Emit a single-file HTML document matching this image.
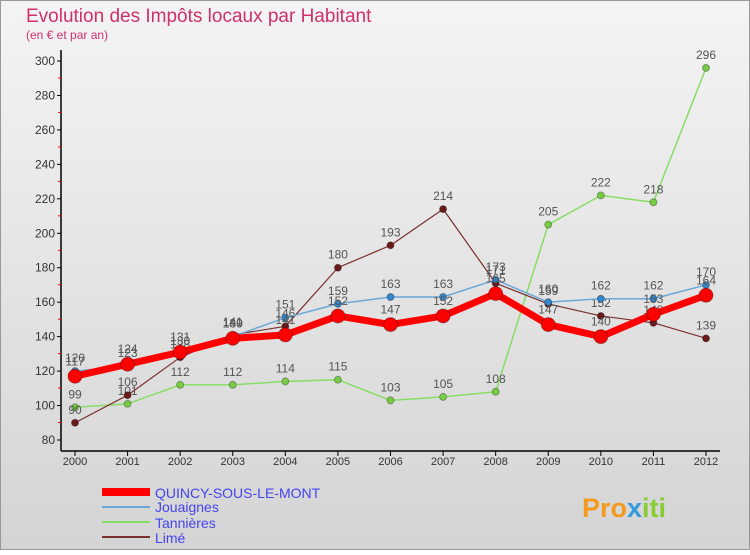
<!DOCTYPE html>
<html><head><meta charset="utf-8"><style>
body{margin:0;width:750px;height:550px;overflow:hidden;font-family:"Liberation Sans",sans-serif}
</style></head><body>
<svg width="750" height="550" xmlns="http://www.w3.org/2000/svg" font-family="Liberation Sans, sans-serif">
<defs><linearGradient id="bg" x1="0" y1="0" x2="0" y2="1"><stop offset="0" stop-color="#f4f4f4"/><stop offset="1" stop-color="#d4d4d4"/></linearGradient></defs>
<rect x="0.5" y="0.5" width="749" height="549" fill="url(#bg)" stroke="#999"/>
<text x="26" y="22" font-size="19" fill="#d0306a">Evolution des Impôts locaux par Habitant</text>
<text x="26" y="39" font-size="12" fill="#d0306a">(en € et par an)</text>
<g id="axes"></g>
<g id="series"></g>
<g font-size="14">
<line x1="102" y1="492" x2="150" y2="492" stroke="#f00" stroke-width="8"/>
<text x="155" y="498" fill="#4444ee">QUINCY-SOUS-LE-MONT</text>
<line x1="102" y1="507" x2="150" y2="507" stroke="#6aa8d8" stroke-width="2"/>
<text x="155" y="512" fill="#4444ee">Jouaignes</text>
<line x1="102" y1="522" x2="150" y2="522" stroke="#88dd66" stroke-width="2"/>
<text x="155" y="528" fill="#4444ee">Tannières</text>
<line x1="102" y1="537" x2="150" y2="537" stroke="#7a3030" stroke-width="2"/>
<text x="155" y="543" fill="#4444ee">Limé</text>
</g>
<text x="582" y="517" font-size="27" font-weight="bold" fill="#f39a1f">Pro<tspan fill="#3399dd">x</tspan><tspan fill="#88cc33">iti</tspan></text>
</svg>
<script>
const years=[2000,2001,2002,2003,2004,2005,2006,2007,2008,2009,2010,2011,2012];
const yTicks=[80,100,120,140,160,180,200,220,240,260,280,300];
const quincy=[117,124,131,139,141,152,147,152,165,147,140,153,164];
const jouaignes=[120,123,130,140,151,159,163,163,173,160,162,162,170];
const tannieres=[99,101,112,112,114,115,103,105,108,205,222,218,296];
const lime=[90,106,128,141,146,180,193,214,171,159,152,148,139];
const NS="http://www.w3.org/2000/svg";
const xs=i=>75+i*(706-75)/12;
const ys=v=>440-(v-80)*(440-61)/220;
function mk(t,a,p){const e=document.createElementNS(NS,t);for(const k in a)e.setAttribute(k,a[k]);p.appendChild(e);return e;}
const ax=document.getElementById('axes');
const yl=mk('line',{x1:61,y1:50,x2:61,y2:451,stroke:'#000','stroke-width':1.5},ax);


const xl=mk('line',{x1:61,y1:451,x2:720,y2:451,stroke:'#000','stroke-width':1.5},ax);


yTicks.forEach((v,k)=>{const y=ys(v);
 mk('line',{x1:57,y1:y,x2:61,y2:y,stroke:'#000'},ax);
 if(k>0) mk('line',{x1:58,y1:y+17,x2:61,y2:y+17,stroke:'#f00'},ax);
 const t=mk('text',{x:55,y:y+4,'text-anchor':'end','font-size':12,fill:'#333'},ax);t.textContent=v;
 
 });
years.forEach((yr,i)=>{const x=xs(i);
 mk('line',{x1:x,y1:451,x2:x,y2:456,stroke:'#000'},ax);
 const t=mk('text',{x:x,y:465,'text-anchor':'middle','font-size':11,fill:'#333'},ax);t.textContent=yr;
 
 });
const sg=document.getElementById('series');
function series(name,data,color,w,r,dot,dy){
 const g=mk('g',{},sg);
 
 
 mk('polyline',{points:data.map((v,i)=>xs(i)+','+ys(v)).join(' '),fill:'none',stroke:color,'stroke-width':w,'stroke-linejoin':'round'},g);
 data.forEach((v,i)=>{const c=mk('circle',{cx:xs(i),cy:ys(v),r:r,fill:dot,stroke:'rgba(0,0,0,0.3)'},g);
  
  
  const t=mk('text',{x:xs(i),y:ys(v)-dy,'text-anchor':'middle','font-size':12,fill:'#555'},g);t.textContent=v;
  
  });
}
series('tannieres',tannieres,'#88dd66',1.5,3.5,'#77cc44',9);
series('lime',lime,'#7a3030',1.2,3.5,'#6a1a1a',9);
series('jouaignes',jouaignes,'#6aa8d8',1.5,3.5,'#3388cc',9);
series('quincy',quincy,'#f00',7,7,'#f00',11);
</script>
</body></html>
